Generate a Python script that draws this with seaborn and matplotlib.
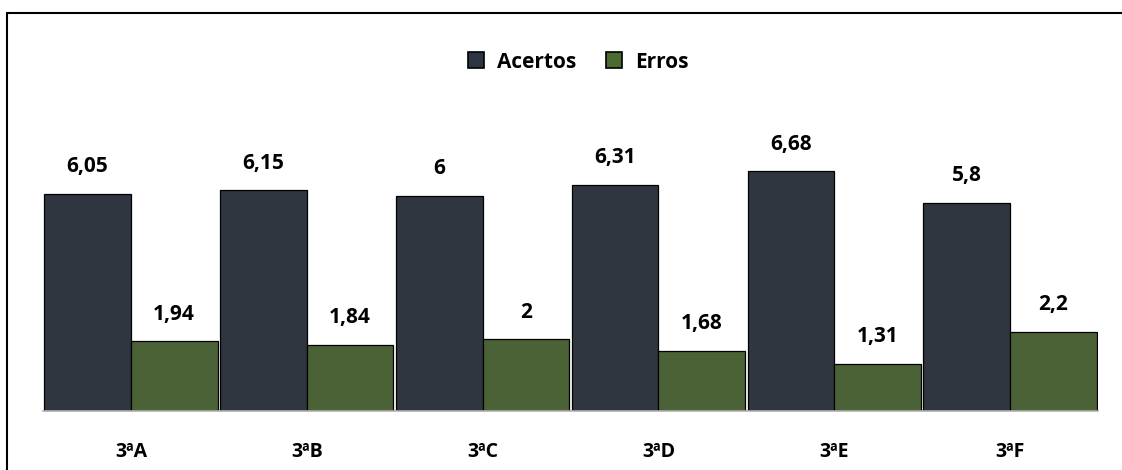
import pandas as pd
import matplotlib
matplotlib.use("Agg")
from matplotlib import pyplot as plt
from matplotlib.lines import Line2D
import seaborn as sns

turmas = ["3ªA", "3ªB", "3ªC", "3ªD", "3ªE", "3ªF"]
acertos = [6.05, 6.15, 6.0, 6.31, 6.68, 5.8]
erros = [1.94, 1.84, 2.0, 1.68, 1.31, 2.2]
series = ["Acertos", "Erros"]
cores = {"Acertos": "#2d3643", "Erros": "#4a6a2e"}

df = pd.DataFrame({
    "turma": turmas * 2,
    "serie": ["Acertos"] * len(turmas) + ["Erros"] * len(turmas),
    "valor": acertos + erros,
})

sns.set_style("white")
plt.rcParams["font.family"] = ["Open Sans", "DejaVu Sans"]
plt.rcParams["font.weight"] = "bold"
plt.rcParams["text.color"] = "black"
plt.rcParams["xtick.color"] = "black"

W, H = 1122, 470
fig = plt.figure(figsize=(W / 100, H / 100), dpi=100)
ax = fig.add_axes([43 / W, 1 - 411 / H, (1098 - 43) / W, 287 / H])

sns.barplot(data=df, x="turma", y="valor", hue="serie", palette=cores,
            width=0.985, edgecolor="black", linewidth=0.9, ax=ax, legend=False)

for cont in ax.containers:
    labels = [f"{v:g}".replace(".", ",") for v in cont.datavalues]
    ax.bar_label(cont, labels=labels, padding=12, fontsize=15, fontweight="bold",
                 color="black")

ax.set_xlim(-0.5, 5.5)
ax.set_ylim(0, 8)
ax.set_xlabel("")
ax.set_ylabel("")
ax.set_yticks([])
for s in ["top", "right", "left"]:
    ax.spines[s].set_visible(False)
ax.spines["bottom"].set_color("#b0b0b0")
ax.spines["bottom"].set_linewidth(1.2)
ax.tick_params(axis="x", length=0, pad=22, labelsize=14, labelcolor="black")
for t in ax.get_xticklabels():
    t.set_fontweight("bold")

handles = [Line2D([], [], marker="s", linestyle="", markersize=12,
                  markerfacecolor=cores[s], markeredgecolor="black",
                  markeredgewidth=1.2) for s in series]
leg = fig.legend(handles, series, loc="center", bbox_to_anchor=(572 / W, 1 - 62 / H),
                 ncol=2, frameon=False, handletextpad=0.0, columnspacing=0.8,
                 prop={"weight": "bold", "size": 15})
for t in leg.get_texts():
    t.set_color("black")

# moldura da figura
fig.add_artist(Line2D([7 / W, 7 / W], [0, 1 - 13 / H], transform=fig.transFigure,
                      color="black", linewidth=1.5))
fig.add_artist(Line2D([7 / W, 1], [1 - 13 / H, 1 - 13 / H], transform=fig.transFigure,
                      color="black", linewidth=1.5))

fig.savefig("out.png", dpi=100)
